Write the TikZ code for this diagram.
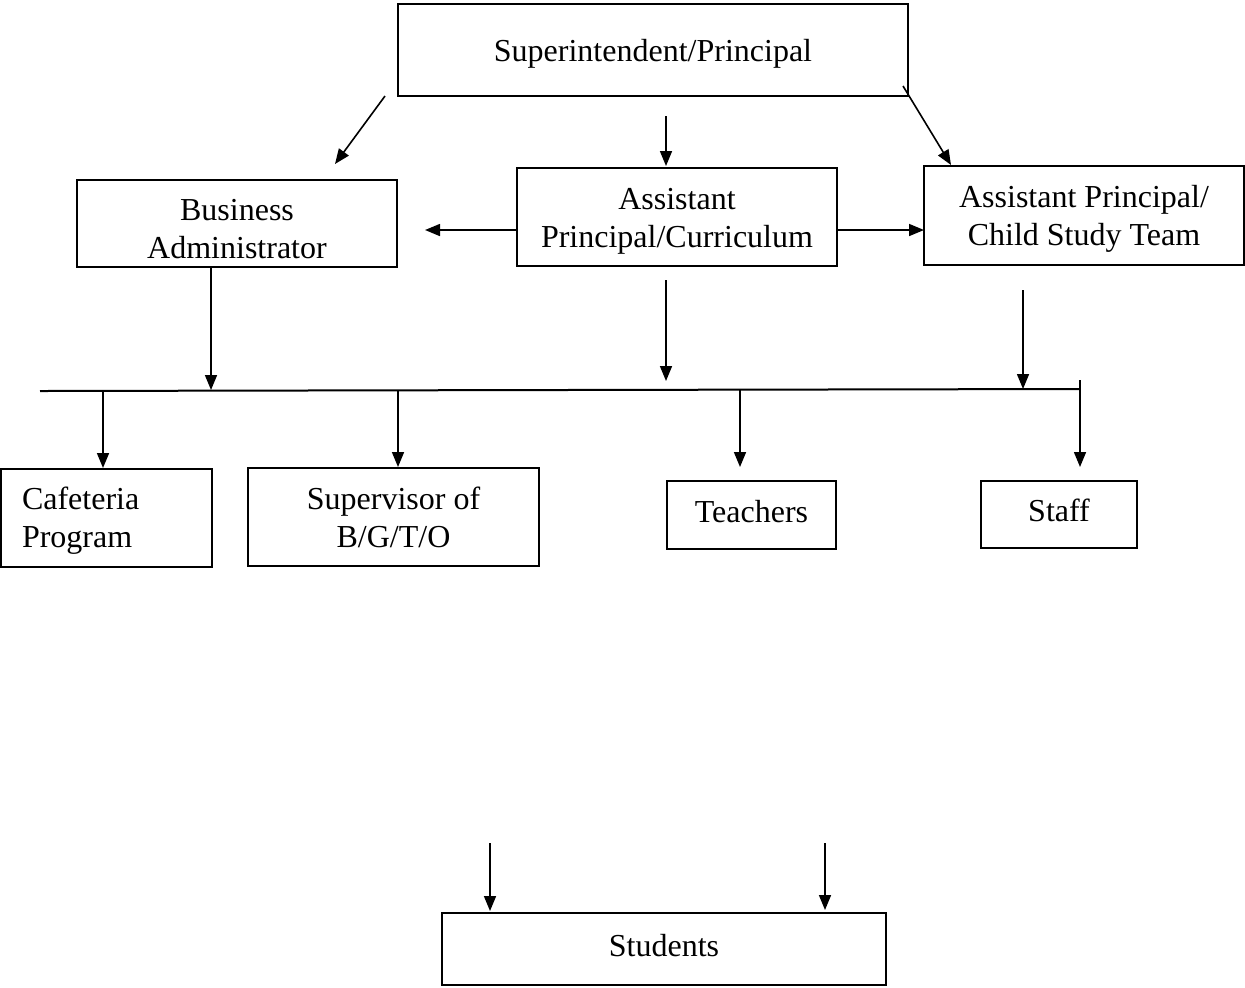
\documentclass[tikz,border=0pt]{standalone}
\usepackage{fontspec}
\setmainfont{Liberation Serif}
\usetikzlibrary{arrows.meta}
\newcommand\dnc[2]{\raisebox{-#1}[\height][\depth]{\begin{tabular}{@{}c@{}}#2\end{tabular}}}
\newcommand\dnl[2]{\raisebox{-#1}[\height][\depth]{\begin{tabular}{@{}l@{}}#2\end{tabular}}}
\begin{document}
\begin{tikzpicture}[x=0.5pt,y=-0.5pt,
  box/.style={draw,line width=1pt,inner sep=0pt,font=\fontsize{16}{19}\selectfont},
  conn/.style={line width=0.8pt,-{Triangle[length=7.5pt,width=6pt]}},
  plain/.style={line width=1pt}]
\useasboundingbox (0,0) rectangle (1245,987);
% boxes
\node[box,minimum width=255pt,minimum height=46pt] (sup) at (653,50) {\dnc{1.8pt}{Superintendent/Principal}};
\node[box,minimum width=160pt,minimum height=43.5pt] (ba) at (237,223.5) {\dnc{4.25pt}{Business\\Administrator}};
\node[box,minimum width=160pt,minimum height=49pt] (apc) at (677,217) {\dnc{2pt}{Assistant\\Principal/Curriculum}};
\node[box,minimum width=160pt,minimum height=49.5pt] (apcst) at (1084,215.5) {\dnc{1.5pt}{Assistant Principal/\\Child Study Team}};
\node[box,minimum width=105.5pt,minimum height=49pt] (caf) at (106.5,518) {\makebox[84.5pt][l]{\dnl{1.25pt}{Cafeteria\\Program}}};
\node[box,minimum width=145.5pt,minimum height=49pt] (sup2) at (393.5,517) {\dnc{2pt}{Supervisor of\\B/G/T/O}};
\node[box,minimum width=84.5pt,minimum height=34pt] (teach) at (751.5,515) {\dnc{0pt}{Teachers}};
\node[box,minimum width=78pt,minimum height=33.5pt] (staff) at (1059,514.5) {\dnc{-0.5pt}{Staff}};
\node[box,minimum width=222pt,minimum height=36pt] (stud) at (664,949) {\dnc{0pt}{Students}};
% coordinates
\coordinate (d1s) at (385,96);
\coordinate (d1e) at (335,164);
\coordinate (m1s) at (666,116);
\coordinate (m1e) at (666,166);
\coordinate (d2s) at (903,86);
\coordinate (d2e) at (951,165);
\coordinate (hl) at (425,230);
\coordinate (hr) at (924,230);
\coordinate (bars) at (40,391);
\coordinate (bare) at (1080,389);
\coordinate (baE) at (211,390);
\coordinate (apcS) at (666,280);
\coordinate (apcE) at (666,381);
\coordinate (stS) at (1023,290);
\coordinate (stE) at (1023,389);
\coordinate (tick) at (1080,380);
\coordinate (cafT) at (103,468);
\coordinate (supT) at (398,467);
\coordinate (tchT) at (740,467);
\coordinate (stfT) at (1080,467);
\coordinate (s1s) at (490,843);
\coordinate (s1e) at (490,911);
\coordinate (s2s) at (825,843);
\coordinate (s2e) at (825,910);
% connectors
\draw[conn] (d1s) -- (d1e);
\draw[conn] (m1s) -- (m1e);
\draw[conn] (d2s) -- (d2e);
\draw[conn] (apc.west |- hl) -- (hl);
\draw[conn] (apc.east |- hr) -- (hr);
\draw[conn] (ba.south -| baE) -- (baE);
\draw[conn] (apcS) -- (apcE);
\draw[conn] (stS) -- (stE);
\draw[plain] (bars) -- (bare);
\draw[conn] (cafT |- 0,391) -- (cafT);
\draw[conn] (supT |- 0,390.5) -- (supT);
\draw[conn] (tchT |- 0,390) -- (tchT);
\draw[conn] (tick) -- (stfT);
\draw[conn] (s1s) -- (s1e);
\draw[conn] (s2s) -- (s2e);
\end{tikzpicture}
\end{document}
